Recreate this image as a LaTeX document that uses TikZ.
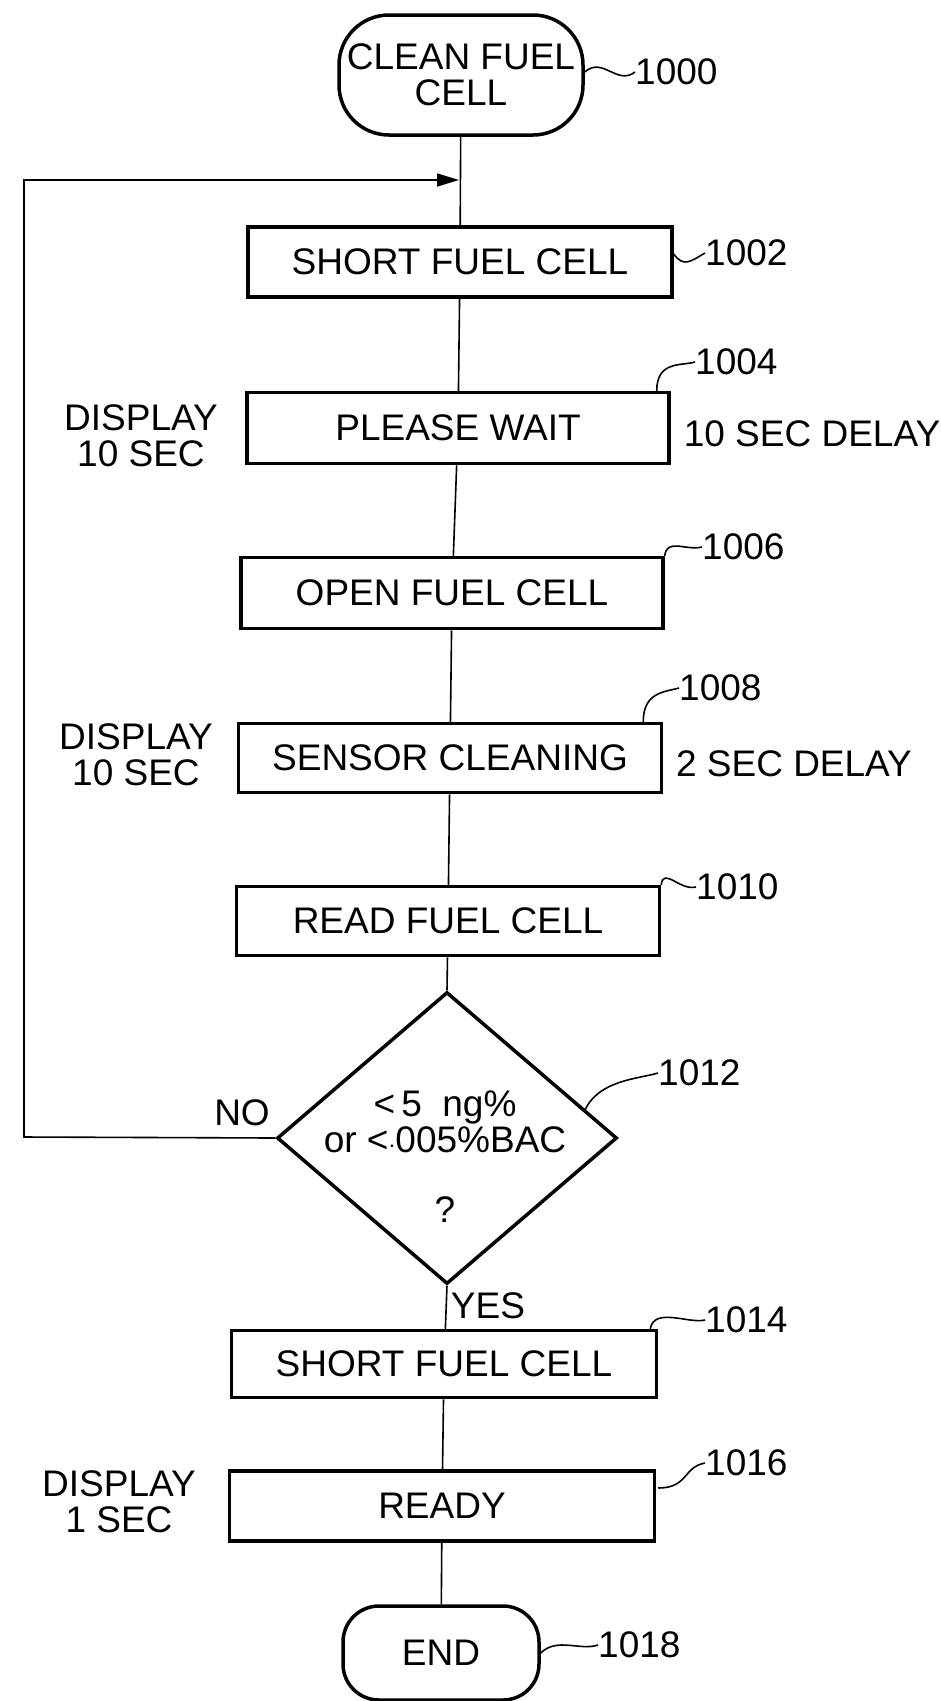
\documentclass[tikz,border=0pt]{standalone}
\usepackage{fontspec}
\setmainfont{Liberation Sans}
\usetikzlibrary{shapes.geometric,arrows.meta,calc}
\begin{document}
\begin{tikzpicture}[x=1pt,y=-1pt,
  every node/.style={font=\fontsize{37}{36}\selectfont},
  procbox/.style={draw,line width=3.5pt,inner sep=0pt,minimum height=70pt},
  term/.style={draw,line width=3.5pt,inner sep=0pt,align=center},
  flow/.style={line width=1.6pt},
  squig/.style={line width=1.6pt},
  reftext/.style={anchor=west,inner sep=0pt},
  plain/.style={inner sep=0pt,align=center}]
\useasboundingbox[fill=white] (0,0) rectangle (941,1701);

% main nodes
\node[term,rounded corners=50pt,minimum width=244pt,minimum height=120pt] (start) at (461,75) {CLEAN FUEL\\CELL};
\node[procbox,minimum width=424pt] (b1002) at (460,262) {SHORT FUEL CELL};
\node[procbox,minimum width=422pt,minimum height=71pt] (b1004) at (458,428) {PLEASE WAIT};
\node[procbox,minimum width=422pt,minimum height=71pt] (b1006) at (452,593) {OPEN FUEL CELL};
\node[procbox,minimum width=423pt,minimum height=69pt] (b1008) at (450,758) {SENSOR CLEANING};
\node[procbox,minimum width=423pt,minimum height=69pt] (b1010) at (448,921) {READ FUEL CELL};
\node[draw,diamond,line width=3.5pt,inner sep=0pt,minimum width=340pt,minimum height=292pt] (d) at (447,1138) {};
\node[plain] (q1) at (445,1107) {<\,5\ \ ng\%};
\node[plain] (q2) at (445,1140) {or <$\cdot$005\%BAC};
\node[plain] (q3) at (445,1210) {?};
\node[procbox,minimum width=425pt,minimum height=67pt] (b1014) at (444,1364) {SHORT FUEL CELL};
\node[procbox,minimum width=425pt,minimum height=70pt] (b1016) at (442,1506) {READY};
\node[term,rounded corners=36pt,minimum width=196pt,minimum height=94pt] (end) at (441,1653) {END};

% side texts
\node[plain] (disp1) at (141,436) {DISPLAY\\10 SEC};
\node[plain] (delay1) at (812,434) {10 SEC DELAY};
\node[plain] (disp2) at (136,755) {DISPLAY\\10 SEC};
\node[plain] (delay2) at (794,764) {2 SEC DELAY};
\node[plain] (disp3) at (119,1502) {DISPLAY\\1 SEC};
\node[plain] (no) at (242,1113) {NO};
\node[plain] (yes) at (488,1306) {YES};

% connectors
\coordinate (join) at (459,180);
\coordinate (lpA) at (24,1137);
\coordinate (lpB) at (24,180);
\draw[flow] (start) -- (b1002);
\draw[flow] (b1002) -- (b1004);
\draw[flow] (b1004) -- (b1006);
\draw[flow] (b1006) -- (b1008);
\draw[flow] (b1008) -- (b1010);
\draw[flow] (b1010) -- (d.north);
\draw[flow] (d.south) -- (b1014);
\draw[flow] (b1014) -- (b1016);
\draw[flow] (b1016) -- (end);
\draw[flow,-{Triangle[length=22pt,width=13pt]}] (d.west) -- (lpA) -- (lpB) -- (join);

% reference numerals
\node[reftext] (l1000) at (635,72) {1000};
\node[reftext] (l1002) at (705,253) {1002};
\node[reftext] (l1004) at (695,362) {1004};
\node[reftext] (l1006) at (702,547) {1006};
\node[reftext] (l1008) at (679,688) {1008};
\node[reftext] (l1010) at (696,887) {1010};
\node[reftext] (l1012) at (658,1073) {1012};
\node[reftext] (l1014) at (705,1320) {1014};
\node[reftext] (l1016) at (705,1463) {1016};
\node[reftext] (l1018) at (598,1645) {1018};

\draw[squig] ($(start.east)+(0,-3)$) .. controls +(18,-16) and +(-18,14) .. (l1000.west);
\draw[squig] ($(b1002.east)+(0,-8)$) .. controls +(10,14) and +(-14,8) .. (l1002.west);
\draw[squig] ($(b1004.north east)+(-14,0)$) .. controls +(0,-30) and +(-14,4) .. (l1004.west);
\draw[squig] (b1006.north east) .. controls +(2,-18) and +(-16,4) .. (l1006.west);
\draw[squig] ($(b1008.north east)+(-20,0)$) .. controls +(0,-30) and +(-14,4) .. (l1008.west);
\draw[squig] (b1010.north east) .. controls +(2,-18) and +(-16,4) .. (l1010.west);
\draw[squig] (585,1110) .. controls +(14,-30) and +(-20,6) .. (l1012.west);
\draw[squig] ($(b1014.north east)+(-8,0)$) .. controls +(4,-22) and +(-16,4) .. (l1014.west);
\draw[squig] ($(b1016.east)+(2,-18)$) .. controls +(30,0) and +(-22,4) .. (l1016.west);
\draw[squig] ($(end.east)+(0,0)$) .. controls +(16,-16) and +(-18,6) .. (l1018.west);
\end{tikzpicture}
\end{document}
